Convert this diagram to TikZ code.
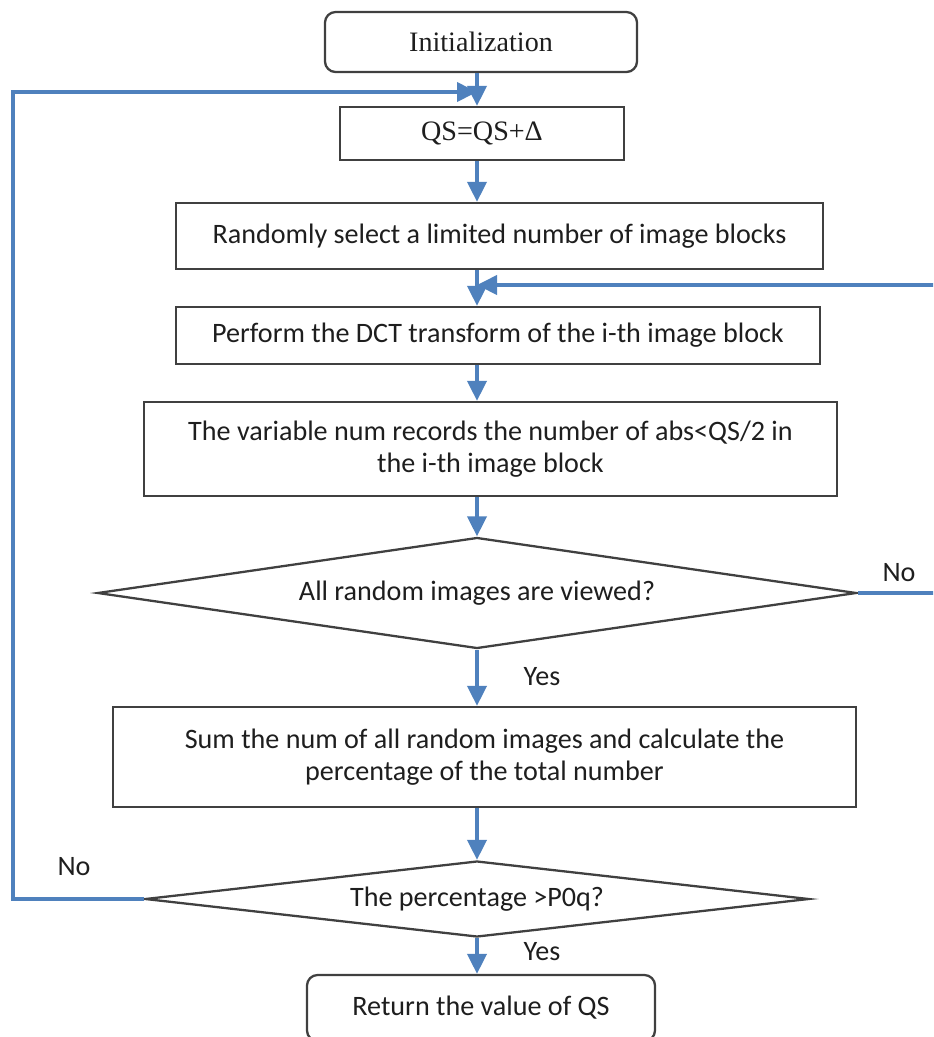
\documentclass[tikz,border=0pt]{standalone}
\usepackage{fontspec}
\setmainfont{Carlito}
\newfontfamily\serifface{Liberation Serif}
\usepackage{tikz}
\definecolor{ink}{HTML}{1E1E1E}
\definecolor{frame}{HTML}{404040}
\definecolor{flowblue}{HTML}{4F81BD}
\usetikzlibrary{
  arrows.meta,
  positioning,
  shapes.geometric
}
\tikzset{
  >={Triangle[length=4mm,width=3.8mm]},
  every node/.style={font=\fontsize{16}{18.5}\selectfont, text=ink},
  process/.style={
    draw=frame,
    fill=white,
    line width=1.3pt,
    align=center,
    inner sep=0pt
  },
  terminal/.style={process, rounded corners=6pt},
  decision/.style={diamond, draw=frame, fill=white, line width=1.3pt, inner sep=0pt},
  serifnode/.style={font=\serifface\fontsize{16}{18.5}\selectfont},
  flow/.style={->, line width=2.2pt, draw=flowblue},
  annot/.style={font=\fontsize{16}{18.5}\selectfont, text=ink}
}

\begin{document}
\begin{tikzpicture}[x=0.2mm, y=-0.2mm]
  \useasboundingbox (0,0) rectangle (933,1037);
  \clip (0,0) rectangle (933,1037);

  % rails for the two loops
  \coordinate (spine) at (477,0);
  \coordinate (leftrail) at (13,0);
  \coordinate (rightrail) at (960,0);
  \coordinate (topjoin) at (477,92);
  \coordinate (midjoin) at (477,285);

  \node[terminal, serifnode, minimum width=62.4mm, minimum height=12mm] (init) at (481,42) {Initialization};
  \node[process, serifnode, minimum width=56.8mm, minimum height=10.6mm] (qs) at (482,133.5) {QS=QS+Δ};
  \node[process, minimum width=129.4mm, minimum height=13.2mm] (sel) at (499.5,236) {Randomly select a limited number of image blocks};
  \node[process, minimum width=128.8mm, minimum height=11.4mm] (dct) at (498,335.5) {Perform the DCT transform of the i-th image block};
  \node[process, minimum width=138.6mm, minimum height=18.8mm] (rec) at (490.5,449) {The variable num records the number of abs<QS/2 in\\the i-th image block};
  \node[decision, shape aspect=6.8, minimum width=151.8mm, minimum height=22.2mm] (all) at (477,593) {All random images are viewed?};
  \node[process, minimum width=148.6mm, minimum height=20mm] (sum) at (484.5,757) {Sum the num of all random images and calculate the\\percentage of the total number};
  \node[decision, shape aspect=8.7, minimum width=132.8mm, minimum height=15.2mm] (pct) at (477,899) {The percentage >P0q?};
  \node[terminal, minimum width=69.6mm, minimum height=13.2mm] (ret) at (481,1008) {Return the value of QS};

  \draw[flow] (init.south -| spine) -- (qs.north -| spine);
  \draw[flow] (qs.south -| spine) -- (sel.north -| spine);
  \draw[flow] (sel.south -| spine) -- (dct.north -| spine);
  \draw[flow] (dct.south -| spine) -- (rec.north -| spine);
  \draw[flow] (rec.south -| spine) -- (all.north);
  \draw[flow] (all.south) -- (sum.north -| spine);
  \draw[flow] (sum.south -| spine) -- (pct.north);
  \draw[flow] (pct.south) -- (ret.north -| spine);

  % back edges
  \draw[flow] (pct.west) -- (pct.west -| leftrail) |- (topjoin);
  \draw[flow] (all.east) -- (all.east -| rightrail) |- (midjoin);

  \node[annot] (noright) at (899,573) {No};
  \node[annot] (noleft) at (74,867) {No};
  \node[annot] (yesupper) at (542,677) {Yes};
  \node[annot] (yeslower) at (542,952) {Yes};
\end{tikzpicture}
\end{document}
